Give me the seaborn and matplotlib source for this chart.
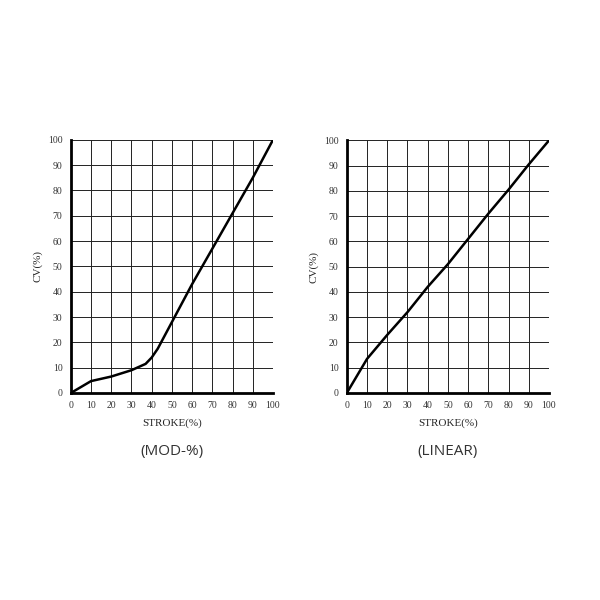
import numpy as np
import matplotlib
matplotlib.use("Agg")
import matplotlib.pyplot as plt
import seaborn as sns
from matplotlib.ticker import MultipleLocator

# -----------------------------
# Data
# -----------------------------
mod_stroke = [0, 10, 20, 30, 37, 40, 43, 45, 50, 60, 70, 80, 90, 100]
mod_cv = [0, 4.7, 6.5, 9, 11.5, 14, 17.5, 20.5, 28, 43, 57, 71, 85, 100]

lin_stroke = [0, 10, 20, 30, 40, 50, 60, 70, 80, 90, 100]
lin_cv = [0, 13.5, 23, 32, 42, 51, 61, 71, 80.5, 90.5, 100]

titles = ["(MOD-%)", "(LINEAR)"]

sns.set_style("white")
plt.rcParams["font.family"] = ["Liberation Serif", "DejaVu Serif"]

fig = plt.figure(figsize=(6, 6), dpi=100)
ax1 = fig.add_axes([0.118, 0.345, 0.337, 0.422])
ax2 = fig.add_axes([0.578, 0.345, 0.337, 0.421])

for ax, xs, ys, title in [(ax1, mod_stroke, mod_cv, titles[0]),
                          (ax2, lin_stroke, lin_cv, titles[1])]:
    sns.lineplot(x=xs, y=ys, ax=ax, color="black", linewidth=1.8)
    ax.set_xlim(0, 100)
    ax.set_ylim(0, 100)
    ax.xaxis.set_major_locator(MultipleLocator(10))
    ax.yaxis.set_major_locator(MultipleLocator(10))
    ax.xaxis.set_minor_locator(MultipleLocator(5))
    ax.yaxis.set_minor_locator(MultipleLocator(5))
    ax.grid(True, which="major", color="#222222", linewidth=0.7)
    ax.tick_params(which="both", direction="in", labelsize=7, colors="#333333",
                   length=2, width=1.2, pad=6)
    for s in ["top", "right"]:
        ax.spines[s].set_visible(False)
    for s in ["left", "bottom"]:
        ax.spines[s].set_linewidth(2)
        ax.spines[s].set_color("black")
    ax.set_xlabel("STROKE(%)", fontsize=8, labelpad=6)
    ax.set_ylabel("CV(%)", fontsize=8, labelpad=4)
    pos = ax.get_position()
    fig.text((pos.x0 + pos.x1) / 2, 1 - 452 / 600, title,
             ha="center", va="center", fontsize=11, color="#333333",
             family=["Open Sans", "DejaVu Sans"])

fig.savefig("out.png", dpi=100)
